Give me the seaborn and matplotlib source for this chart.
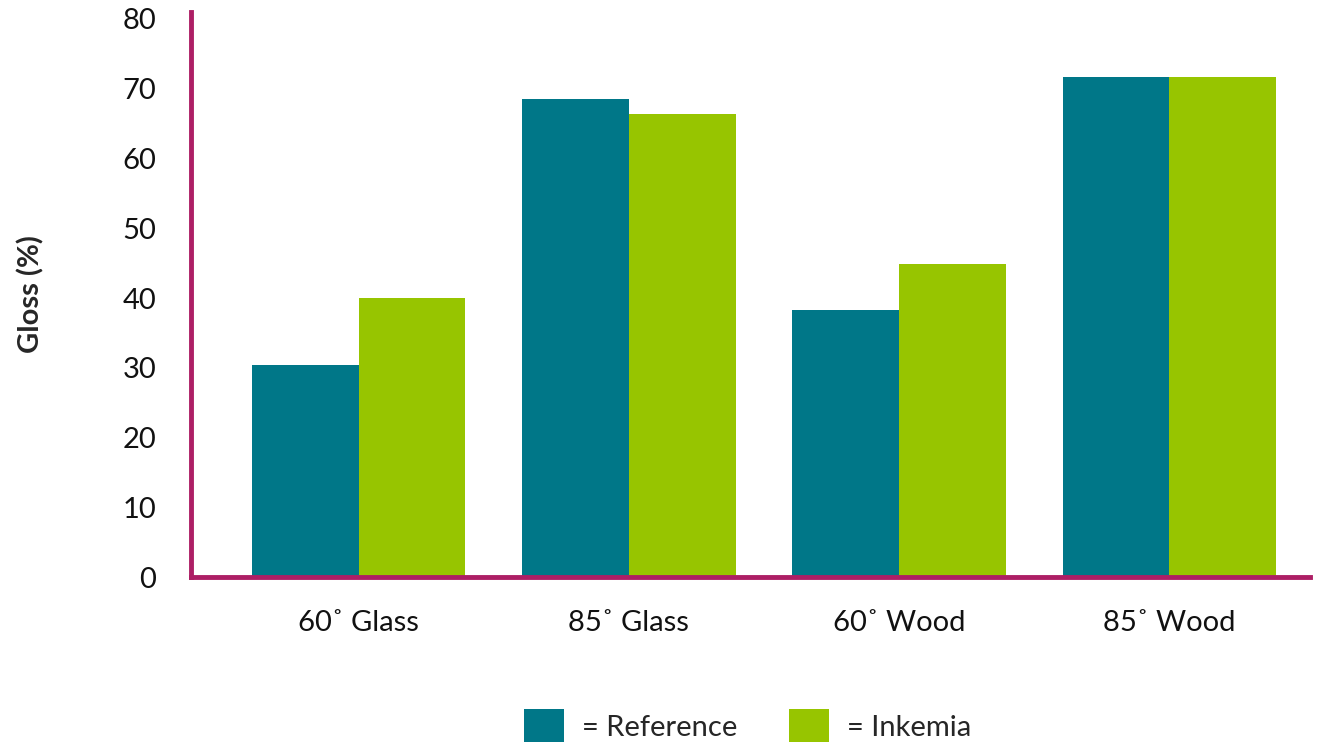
import matplotlib
matplotlib.use("Agg")
import matplotlib.pyplot as plt
from matplotlib.patches import Patch
import seaborn as sns
import pandas as pd

categories = ["60˚ Glass", "85˚ Glass", "60˚ Wood", "85˚ Wood"]
series_names = ["Reference", "Inkemia"]
reference_values = [30.4, 68.6, 38.3, 71.7]
inkemia_values = [40.0, 66.4, 44.9, 71.7]
colors = ["#007788", "#97C500"]
spine_color = "#AD1E65"

df = pd.DataFrame({
    "category": categories * 2,
    "series": [series_names[0]] * 4 + [series_names[1]] * 4,
    "gloss": reference_values + inkemia_values,
})

sns.set_theme(style="white")
plt.rcParams["font.family"] = ["Lato", "DejaVu Sans"]

fig = plt.figure(figsize=(13.21, 7.46), dpi=100)
ax = fig.add_axes([0.1446, 0.2265, 0.9917 - 0.1446, 0.9839 - 0.2265])

sns.barplot(data=df, x="category", y="gloss", hue="series", order=categories,
            hue_order=series_names, palette=colors, width=0.79, saturation=1,
            ax=ax, legend=False, linewidth=0)

ax.set_ylim(0, 81)
ax.set_xlim(-0.62, 3.52)
ax.set_yticks(range(0, 81, 10))
ax.tick_params(axis="both", length=0, labelsize=21, colors="#111111")
ax.tick_params(axis="x", pad=24)
ax.tick_params(axis="y", pad=25)
ax.set_xlabel("")
ax.set_ylabel("Gloss (%)", fontsize=21, fontweight="bold")
ax.yaxis.set_label_coords(-0.131, 0.5)
for s in ["top", "right"]:
    ax.spines[s].set_visible(False)
for s in ["left", "bottom"]:
    ax.spines[s].set_color(spine_color)
    ax.spines[s].set_linewidth(3.5)

handles = [Patch(facecolor=c, edgecolor="none") for c in colors]
fig.legend(handles, ["= " + n for n in series_names], loc="center",
           bbox_to_anchor=(0.566, 0.027), ncol=2, frameon=False,
           fontsize=21, handlelength=1.37, handleheight=1.37,
           handletextpad=0.62, columnspacing=1.78)

fig.savefig("out.png", dpi=100)
